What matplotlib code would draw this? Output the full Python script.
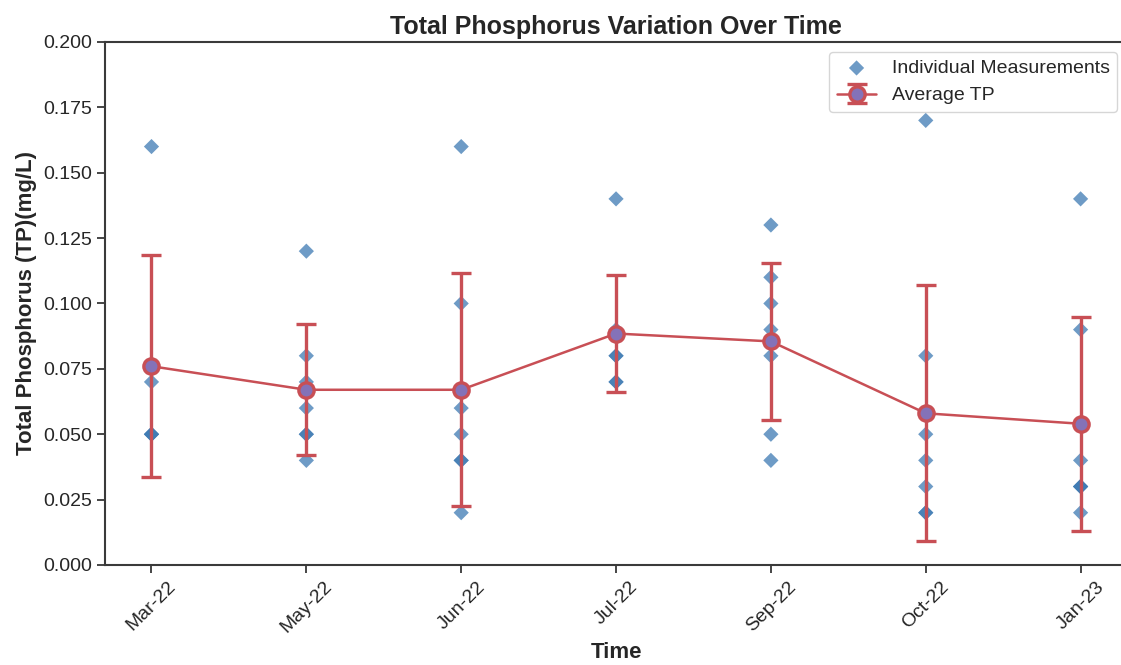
# Total phosphorus variation over time
import numpy as np
import matplotlib.pyplot as plt
import seaborn as sns

sns.set_style("ticks")
plt.rcParams['font.family'] = ['Liberation Sans', 'DejaVu Sans']

# Sampling campaigns
months = ["Mar-22", "May-22", "Jun-22", "Jul-22", "Sep-22", "Oct-22", "Jan-23"]

# Individual TP measurements (mg/L) for each campaign
tp_mar22 = [0.16, 0.07, 0.05, 0.05, 0.05]
tp_may22 = [0.12, 0.08, 0.07, 0.06, 0.05, 0.05, 0.04]
tp_jun22 = [0.16, 0.10, 0.06, 0.05, 0.04, 0.04, 0.02]
tp_jul22 = [0.14, 0.09, 0.08, 0.08, 0.07, 0.07]
tp_sep22 = [0.13, 0.11, 0.10, 0.09, 0.08, 0.05, 0.04]
tp_oct22 = [0.17, 0.08, 0.05, 0.04, 0.03, 0.02, 0.02]
tp_jan23 = [0.14, 0.09, 0.04, 0.03, 0.03, 0.03, 0.02]
measurements = [tp_mar22, tp_may22, tp_jun22, tp_jul22, tp_sep22, tp_oct22, tp_jan23]

# Average TP and its spread
avg_tp = [0.076, 0.067, 0.067, 0.0885, 0.0855, 0.058, 0.054]
err_tp = [0.0425, 0.025, 0.0445, 0.0225, 0.030, 0.049, 0.041]

fig = plt.figure(figsize=(11.21, 6.65), dpi=100)
ax = fig.add_axes([0.0937, 0.1504, 0.9117, 0.7865])

# Scatter of individual measurements
for i, vals in enumerate(measurements):
    ax.scatter([i] * len(vals), vals, marker="D", s=60, color="#3d7ab3",
               alpha=0.75, edgecolors="none", zorder=2,
               label="Individual Measurements" if i == 0 else None)

# Averages with error bars
ax.errorbar(range(len(months)), avg_tp, yerr=err_tp, fmt="-o",
            color="#c84f55", ecolor="#c84f55", elinewidth=2.4, capsize=7,
            capthick=2.4, linewidth=1.8, markersize=11,
            markerfacecolor="#8472b8", markeredgecolor="#c84f55",
            markeredgewidth=2.4, zorder=3, label="Average TP")

ax.set_ylim(0, 0.2)
ax.set_yticks(np.arange(0, 0.201, 0.025))
ax.set_xticks(range(len(months)))
ax.set_xticklabels(months, rotation=45)
ax.margins(x=0.05)
ax.tick_params(labelsize=14, colors="#262626", length=6, width=1.2)
for s in ["left", "bottom", "top"]:
    ax.spines[s].set_linewidth(1.5)
    ax.spines[s].set_color("#3a3a3a")
ax.spines["right"].set_visible(False)

ax.set_title("Total Phosphorus Variation Over Time", fontsize=18,
             fontweight="bold", color="#262626")
ax.set_xlabel("Time", fontsize=16, fontweight="bold", color="#262626")
ax.set_ylabel("Total Phosphorus (TP)(mg/L)", fontsize=16, fontweight="bold",
              color="#262626")

ax.legend(loc="upper right", fontsize=14, frameon=True,
          bbox_to_anchor=(1.0, 1.0))

fig.savefig("out.png", dpi=100)
